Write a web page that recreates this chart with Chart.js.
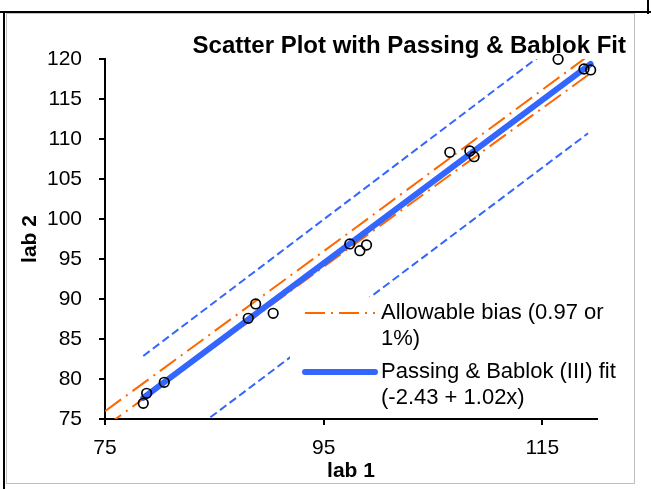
<!DOCTYPE html>
<html>
<head>
<meta charset="utf-8">
<script src="https://cdn.jsdelivr.net/npm/chart.js@4"></script>
<style>
  html, body { margin: 0; padding: 0; background: #fff; }
  #wrap { width: 651px; height: 489px; position: relative; }
</style>
</head>
<body>
<div id="wrap"><canvas id="pbChart" width="651" height="489"></canvas></div>
<script>
// axis ticks
const xTicks = [75, 95, 115];
const yTicks = [75, 80, 85, 90, 95, 100, 105, 110, 115, 120];

// measurements (lab 1 vs lab 2)
const lab1 = [78.50, 78.81, 80.42, 88.10, 88.78, 90.38, 97.39, 98.31, 98.92, 106.54, 108.37, 108.76, 116.44, 118.81, 119.42];
const lab2 = [76.96, 78.21, 79.59, 87.59, 89.38, 88.21, 96.88, 96.04, 96.75, 108.34, 108.50, 107.79, 119.96, 118.75, 118.63];

// Passing & Bablok fit line
const fitX = [78.50, 119.42];
const fitY = [77.64, 119.38];

// confidence band (blue dashed)
const upperBandX = [78.50, 119.42];
const upperBandY = [82.88, 125.19];
const lowerBandX = [78.50, 119.18];
const lowerBandY = [68.90, 110.71];

// allowable bias (orange dash-dot)
const biasUpperX = [75, 97, 120];
const biasUpperY = [75.97, 97.97, 121.20];
const biasLowerX = [75, 97, 119.42];
const biasLowerY = [74.03, 96.03, 118.23];

const titleText = 'Scatter Plot with Passing & Bablok Fit';
const legendItems = [
    { lines: ['Allowable bias (0.97 or', '1%)'], color: '#FF6600', width: 2, dash: [20, 6, 2, 6] },
    { lines: ['Passing & Bablok (III) fit', '(-2.43 + 1.02x)'], color: '#3366FF', width: 6, dash: [] }
];

const BLUE = '#3366FF';
const ORANGE = '#FF6600';
const FONT = '"Liberation Sans", Arial, sans-serif';

const toPts = (xs, ys) => xs.map((x, i) => ({ x: x, y: ys[i] }));

// frame, title and legend
const decor = {
    id: 'decor',
    beforeDraw(chart) {
        const c = chart.ctx;
        c.save();
        c.fillStyle = '#fff';
        c.fillRect(0, 0, chart.width, chart.height);
        c.strokeStyle = '#c0c0c0';
        c.lineWidth = 1;
        c.strokeRect(6.5, 13.5, 628, 470);
        c.strokeStyle = '#000';
        c.lineWidth = 2;
        c.beginPath();
        c.moveTo(0, 12); c.lineTo(chart.width, 12);
        c.moveTo(4, 12); c.lineTo(4, chart.height);
        c.moveTo(648, 0); c.lineTo(648, 14);
        c.stroke();
        c.restore();
    },
    afterDraw(chart) {
        const c = chart.ctx;
        const a = chart.chartArea;
        c.save();
        // title
        c.fillStyle = '#000';
        c.font = 'bold 24px ' + FONT;
        c.textAlign = 'right';
        c.textBaseline = 'middle';
        c.fillText(titleText, 626, 46);

        // legend
        const bx = a.left + 185, by = 297;
        c.fillStyle = '#fff';
        c.fillRect(bx, by, a.right - bx, a.bottom - by - 1);
        let y = 313;
        legendItems.forEach(item => {
            c.strokeStyle = item.color;
            c.lineWidth = item.width;
            c.lineCap = item.dash.length ? 'butt' : 'round';
            c.setLineDash(item.dash);
            c.beginPath();
            c.moveTo(a.left + 200, y);
            c.lineTo(a.left + 270, y);
            c.stroke();
            c.setLineDash([]);
            c.fillStyle = '#000';
            c.font = '22px ' + FONT;
            c.textAlign = 'left';
            item.lines.forEach((t, i) => c.fillText(t, a.left + 276, y + i * 26));
            y += 59;
        });
        c.restore();
    }
};

const lineDs = (label, pts, color, width, dash) => ({
    label: label,
    type: 'line',
    data: pts,
    borderColor: color,
    borderWidth: width,
    borderDash: dash,
    borderCapStyle: dash.length ? 'butt' : 'round',
    pointRadius: 0,
    fill: false,
    tension: 0
});

const ctx = document.getElementById('pbChart').getContext('2d');
const pbChart = new Chart(ctx, {
    type: 'scatter',
    data: {
        datasets: [
            {
                label: 'data',
                data: toPts(lab1, lab2),
                pointRadius: 4.8,
                pointBorderWidth: 1.7,
                pointBorderColor: '#000',
                pointBackgroundColor: 'rgba(0,0,0,0)',
                clip: false
            },
            lineDs('Passing & Bablok (III) fit', toPts(fitX, fitY), BLUE, 6, []),
            lineDs('Allowable bias upper', toPts(biasUpperX, biasUpperY), ORANGE, 2, [20, 6, 2, 6]),
            lineDs('Allowable bias lower', toPts(biasLowerX, biasLowerY), ORANGE, 2, [20, 6, 2, 6]),
            lineDs('upper band', toPts(upperBandX, upperBandY), BLUE, 2, [8, 4]),
            lineDs('lower band', toPts(lowerBandX, lowerBandY), BLUE, 2, [8, 4])
        ]
    },
    options: {
        responsive: false,
        animation: false,
        devicePixelRatio: 1,
        layout: { padding: { left: 6, top: 59, right: 54, bottom: 0 } },
        plugins: {
            legend: { display: false },
            tooltip: { enabled: false },
            title: { display: false }
        },
        scales: {
            x: {
                type: 'linear',
                min: 75,
                max: 120,
                afterBuildTicks: s => { s.ticks = xTicks.map(v => ({ value: v })); },
                afterFit: s => { s.height = 70; },
                grid: { drawOnChartArea: false, drawTicks: true, tickLength: 6, color: '#000', lineWidth: 2 },
                border: { display: true, color: '#000', width: 2 },
                ticks: { color: '#000', font: { family: FONT, size: 21 }, padding: 11, maxRotation: 0 },
                title: { display: true, text: 'lab 1', color: '#000', font: { family: FONT, size: 21, weight: 'bold' }, padding: { top: 0, bottom: 5 } }
            },
            y: {
                type: 'linear',
                min: 75,
                max: 120,
                afterBuildTicks: s => { s.ticks = yTicks.map(v => ({ value: v })); },
                afterFit: s => { s.width = 99; },
                grid: { drawOnChartArea: false, drawTicks: true, tickLength: 6, color: '#000', lineWidth: 2 },
                border: { display: true, color: '#000', width: 2 },
                ticks: { color: '#000', font: { family: FONT, size: 21 }, padding: 17 },
                title: { display: true, text: 'lab 2', color: '#000', font: { family: FONT, size: 21, weight: 'bold' }, padding: { top: 12, bottom: 0 } }
            }
        }
    },
    plugins: [decor]
});
</script>
</body>
</html>
